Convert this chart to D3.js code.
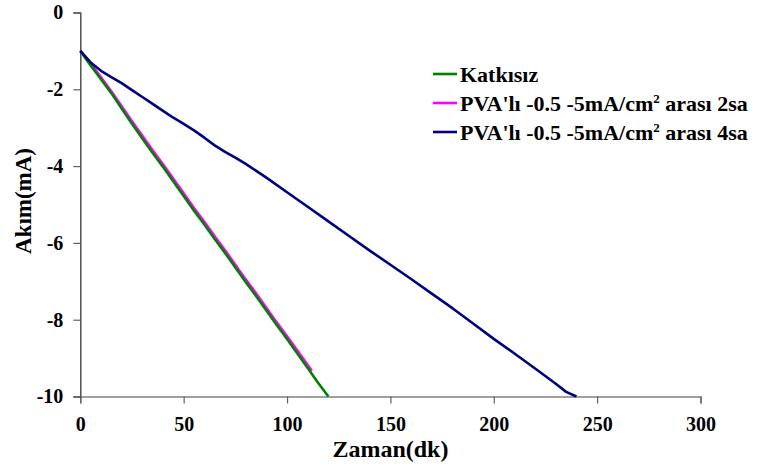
<!DOCTYPE html>
<html>
<head>
<meta charset="utf-8">
<script src="https://cdn.jsdelivr.net/npm/d3@7"></script>
<style>
  html, body { margin: 0; padding: 0; background: #fff; }
  svg { display: block; }
</style>
</head>
<body>
<svg id="chart" width="763" height="470"></svg>
<script>
// Time axis (minutes) for each series
const timeKatkisiz = [0,5,10,15,20,25,30,35,40,45,50,55,60,65,70,75,80,85,90,95,100,105,110,115,120];
const akimKatkisiz = [-1,-1.38,-1.74,-2.1,-2.5,-2.9,-3.28,-3.66,-4.02,-4.4,-4.78,-5.16,-5.52,-5.9,-6.26,-6.64,-7.02,-7.38,-7.76,-8.14,-8.5,-8.88,-9.26,-9.64,-10];

const timePva2 = [0,5,10,15,20,25,30,35,40,45,50,55,60,65,70,75,80,85,90,95,100,105,110,112];
const akimPva2 = [-1,-1.33,-1.69,-2.05,-2.44,-2.83,-3.21,-3.59,-3.95,-4.33,-4.71,-5.09,-5.45,-5.83,-6.19,-6.57,-6.95,-7.31,-7.69,-8.07,-8.43,-8.8,-9.18,-9.33];

const timePva4 = [0,5,10,15,20,25,30,35,40,45,50,55,60,65,70,75,80,90,100,110,120,130,140,150,160,170,180,190,200,210,220,230,235,240];
const akimPva4 = [-1,-1.3,-1.52,-1.68,-1.84,-2.02,-2.2,-2.38,-2.56,-2.74,-2.9,-3.07,-3.26,-3.46,-3.63,-3.78,-3.94,-4.3,-4.68,-5.06,-5.44,-5.82,-6.2,-6.57,-6.94,-7.32,-7.7,-8.1,-8.5,-8.88,-9.27,-9.67,-9.88,-10];

const seriesNames = ["Katkısız", "PVA'lı -0.5 -5mA/cm", "PVA'lı -0.5 -5mA/cm"];
const seriesSuffix = ["", " arası 2sa", " arası 4sa"];
const seriesColors = ["#008000", "#FF00FF", "#000080"];

const xTicks = [0, 50, 100, 150, 200, 250, 300];
const yTicks = [0, -2, -4, -6, -8, -10];
const xTitle = "Zaman(dk)";
const yTitle = "Akım(mA)";

const FONT = "Liberation Serif";
const svg = d3.select("#chart");
const plotLeft = 80.3, plotRight = 700.5, plotTop = 12.5, plotBottom = 396.5;

const x = d3.scaleLinear().domain([0, 300]).range([plotLeft, plotRight]);
const y = d3.scaleLinear().domain([-10, 0]).range([plotBottom, plotTop]);

const plainFormat = d => String(d);
const styleText = (sel, size) => sel
  .attr("font-family", FONT).attr("font-weight", "bold")
  .attr("font-size", size).attr("fill", "#000");

// Axes
const xAxis = svg.append("g")
  .attr("transform", `translate(0,${plotBottom})`)
  .call(d3.axisBottom(x).tickValues(xTicks).tickFormat(plainFormat).tickSizeOuter(0).tickSize(7).tickPadding(13));
xAxis.attr("font-family", FONT);
xAxis.select(".domain").attr("stroke", "#808080").attr("stroke-width", 1.5);
xAxis.selectAll(".tick line").attr("stroke", "#606060").attr("stroke-width", 1.2);
styleText(xAxis.selectAll(".tick text"), 20);

const yAxis = svg.append("g")
  .attr("transform", `translate(${plotLeft},0)`)
  .call(d3.axisLeft(y).tickValues(yTicks).tickFormat(plainFormat).tickSizeOuter(0).tickSize(7).tickPadding(10));
yAxis.attr("font-family", FONT);
yAxis.select(".domain").attr("stroke", "#505050").attr("stroke-width", 1.5);
yAxis.selectAll(".tick line").attr("stroke", "#606060").attr("stroke-width", 1.2);
styleText(yAxis.selectAll(".tick text"), 20);

// Axis titles
styleText(svg.append("text")
  .attr("x", (plotLeft + plotRight) / 2).attr("y", 457)
  .attr("text-anchor", "middle")
  .text(xTitle), 24);
styleText(svg.append("text")
  .attr("transform", "translate(31,201) rotate(-90)")
  .attr("text-anchor", "middle")
  .text(yTitle), 23);

// Lines
const line = d3.line().x(d => x(d[0])).y(d => y(d[1]));
const datasets = [
  d3.zip(timeKatkisiz, akimKatkisiz),
  d3.zip(timePva2, akimPva2),
  d3.zip(timePva4, akimPva4)
];
// draw order: pink under green, blue last
[1, 0, 2].forEach(i => {
  svg.append("path")
    .datum(datasets[i])
    .attr("fill", "none")
    .attr("stroke", seriesColors[i])
    .attr("stroke-width", 2.6)
    .attr("stroke-linejoin", "round")
    .attr("d", line);
});

// Legend
const legend = svg.append("g");
const legendRows = [74, 103, 132];
seriesNames.forEach((name, i) => {
  const yy = legendRows[i];
  legend.append("line")
    .attr("x1", 433).attr("x2", 457).attr("y1", yy).attr("y2", yy)
    .attr("stroke", seriesColors[i]).attr("stroke-width", 2.6);
  const t = styleText(legend.append("text")
    .attr("x", 460).attr("y", yy + 7.5), 22);
  t.append("tspan").text(name);
  if (i > 0) {
    t.append("tspan").attr("font-size", 13).attr("dy", -8).text("2");
    t.append("tspan").attr("dy", 8).text(seriesSuffix[i]);
  }
});
</script>
</body>
</html>
